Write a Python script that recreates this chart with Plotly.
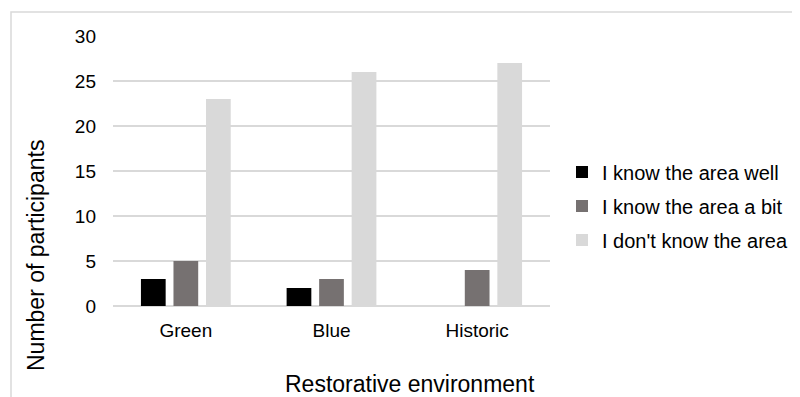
import plotly.graph_objects as go

categories = ["Green", "Blue", "Historic"]
series_names = ["I know the area well", "I know the area a bit", "I don't know the area"]
know_well = [3, 2, 0]
know_bit = [5, 3, 4]
dont_know = [23, 26, 27]
y_ticks = [0, 5, 10, 15, 20, 25, 30]

colors = ["#000000", "#767171", "#d9d9d9"]
FONT = "Liberation Sans, Arial, sans-serif"

# page body has an 8px default margin; work in window pixels and shift
OFF = 8
W, H = 800 - OFF, 397 - OFF
L, R, T, B = 113 - OFF, 800 - 550, 36 - OFF, 397 - 306
pw, ph = W - L - R, H - T - B

def px_x(p):
    return (p - OFF - L) / pw

def px_y(p):
    return (H - B - (p - OFF)) / ph

fig = go.Figure()
for name, vals, c in zip(series_names, [know_well, know_bit, dont_know], colors):
    fig.add_trace(go.Bar(x=categories, y=vals, name=name, marker=dict(color=c, line=dict(width=0)),
                         legendgroup=name))

fig.update_layout(
    width=W, height=H,
    margin=dict(l=L, r=R, t=T, b=B, autoexpand=False),
    paper_bgcolor="white", plot_bgcolor="white",
    barmode="group", bargap=0.33, bargroupgap=0.24,
    font=dict(family=FONT, color="#000000"),
    showlegend=True,
    legend=dict(x=px_x(562), xanchor="left", y=px_y(206), yanchor="middle",
                font=dict(size=20, color="#000000"), tracegroupgap=5,
                bgcolor="rgba(0,0,0,0)", itemclick=False),
    xaxis=dict(showgrid=False, showline=False, ticks="", tickfont=dict(size=19, color="#000000"),
               ticklabelstandoff=11),
    yaxis=dict(range=[0, 30], tickvals=y_ticks, showgrid=True, gridcolor="#d9d9d9", gridwidth=1.5,
               zeroline=True, zerolinecolor="#d9d9d9", zerolinewidth=1.5, showline=False, ticks="",
               tickfont=dict(size=19, color="#000000"), ticklabelstandoff=16),
    annotations=[
        dict(text="Restorative environment", xref="paper", yref="paper", x=px_x(410), y=px_y(384),
             xanchor="center", yanchor="middle", showarrow=False, font=dict(size=23, family=FONT)),
        dict(text="Number of participants", xref="paper", yref="paper", x=px_x(36), y=px_y(256),
             xanchor="center", yanchor="middle", textangle=-90, showarrow=False,
             font=dict(size=23, family=FONT)),
    ],
    shapes=[
        dict(type="rect", xref="paper", yref="paper", x0=px_x(11), x1=px_x(810), y0=px_y(410), y1=px_y(12),
             line=dict(color="#d9d9d9", width=1.5), fillcolor="rgba(0,0,0,0)", layer="below"),
    ],
)

fig.write_html("out.html")
